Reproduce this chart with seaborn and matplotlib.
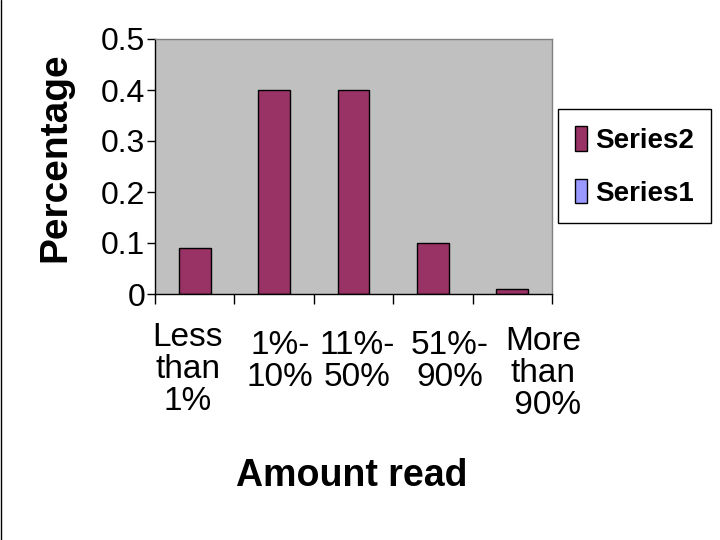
import numpy as np
import pandas as pd
import matplotlib
matplotlib.use("Agg")
import matplotlib.pyplot as plt
import matplotlib.transforms as mtransforms
from matplotlib.patches import Patch
from matplotlib.lines import Line2D
import seaborn as sns

# data
categories = ["Less\nthan\n1%", "1%-\n10%", "11%-\n50%", "51%-\n90%", "More\nthan\n 90%"]
series2 = [0.09, 0.40, 0.40, 0.10, 0.01]
series_names = ["Series2", "Series1"]
series_colors = ["#993366", "#9999FF"]
y_ticks = [0, 0.1, 0.2, 0.3, 0.4, 0.5]
y_tick_labels = ["0", "0.1", "0.2", "0.3", "0.4", "0.5"]

sns.set_theme(style="white")
plt.rcParams['font.family'] = ['Liberation Sans', 'DejaVu Sans']
plt.rcParams['text.color'] = 'black'
plt.rcParams['axes.labelcolor'] = 'black'
plt.rcParams['xtick.color'] = 'black'
plt.rcParams['ytick.color'] = 'black'

df = pd.DataFrame({"category": categories, "value": series2})

fig = plt.figure(figsize=(7.2, 5.4), dpi=100)
ax = fig.add_axes([155 / 720, 1 - 294 / 540, 397 / 720, 255 / 540])
ax.set_facecolor("#C0C0C0")

sns.barplot(data=df, x="category", y="value", color=series_colors[0],
            saturation=1, edgecolor="black", linewidth=1, width=0.4, ax=ax)

ax.set_xlim(-0.5, len(categories) - 0.5)
ax.set_ylim(0, 0.5)

# spines like the old spreadsheet chart
for side in ["top", "right"]:
    ax.spines[side].set_color("#808080")
    ax.spines[side].set_linewidth(1)
for side in ["left", "bottom"]:
    ax.spines[side].set_color("black")
    ax.spines[side].set_linewidth(1)

ax.set_yticks(y_ticks)
ax.set_yticklabels(y_tick_labels, fontsize=23)
ax.tick_params(axis="y", direction="out", length=6, width=1, color="black", pad=1, left=True)

# category labels in the middle, tick marks between the categories
ax.set_xticks(np.arange(len(categories)))
ax.set_xticklabels(categories, fontsize=24, linespacing=1.05)
ax.set_xticks(np.arange(len(categories) + 1) - 0.5, minor=True)
ax.tick_params(axis="x", which="major", length=0, pad=20)
ax.tick_params(axis="x", which="minor", direction="out", length=7, width=1, color="black", bottom=True)

# small nudges to match the wrapped labels of the original
shifts = [(-7, 0), (6, -8), (4, -8), (17, -8), (31, -4)]
for lab, (dx, dy) in zip(ax.get_xticklabels(), shifts):
    off = mtransforms.ScaledTranslation(dx / 100, dy / 100, fig.dpi_scale_trans)
    lab.set_transform(lab.get_transform() + off)

ax.set_xlabel("Amount read", fontsize=27, fontweight="bold")
ax.xaxis.set_label_coords(0.495, -0.645)
ax.set_ylabel("Percentage", fontsize=28, fontweight="bold")
ax.yaxis.set_label_coords(-0.205, 0.535)

handles = [Patch(facecolor=c, edgecolor="black", linewidth=1) for c in series_colors]
leg = ax.legend(handles, series_names, loc="upper left",
                bbox_to_anchor=(558 / 720, 1 - 109 / 540), bbox_transform=fig.transFigure,
                borderaxespad=0, frameon=True, fancybox=False, framealpha=1,
                prop={"size": 20, "weight": "bold"},
                handlelength=0.45, handleheight=1.0, handletextpad=0.3,
                labelspacing=0.9, borderpad=0.6)
leg.get_frame().set_edgecolor("black")
leg.get_frame().set_linewidth(1)

# thin frame line on the left edge of the picture
fig.add_artist(Line2D([0.002, 0.002], [0, 1], color="black", linewidth=1))

fig.savefig("out.png", dpi=100)
